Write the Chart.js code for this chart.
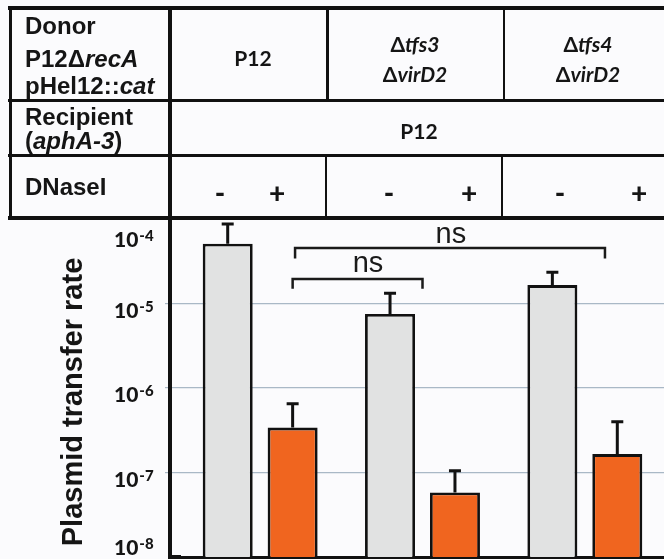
<!DOCTYPE html>
<html>
<head>
<meta charset="utf-8">
<script src="https://cdn.jsdelivr.net/npm/chart.js@4.4.1/dist/chart.umd.min.js"></script>
<style>
  html, body { margin: 0; padding: 0; overflow: hidden; background: #fbfbfd; }
  #wrap { position: relative; width: 664px; height: 559px; overflow: hidden; }
  canvas { position: absolute; left: 0; top: 0; }
  .ln { position: absolute; background: #111; }
  .t { position: absolute; white-space: nowrap; color: #151515; line-height: 1; }
  .a { font: bold 24px "Liberation Sans", Arial, sans-serif; left: 25px; }
  .c { font: bold 21px Lato, sans-serif; width: 200px; text-align: center; }
  .pm { font: 900 28px Lato, sans-serif; width: 40px; text-align: center; }
</style>
</head>
<body>
<div id="wrap">
  <canvas id="chart" width="700" height="559"></canvas>

  <!-- table frame -->
  <div class="ln" style="left:8px; top:6px; width:700px; height:4px"></div>
  <div class="ln" style="left:8.5px; top:6px; width:3px; height:213px"></div>
  <div class="ln" style="left:168px; top:6px; width:4px; height:552px"></div>
  <div class="ln" style="left:168px; top:555px; width:13px; height:3.5px"></div>
  <div class="ln" style="left:8px; top:99px; width:700px; height:3px"></div>
  <div class="ln" style="left:8px; top:153.5px; width:700px; height:3px"></div>
  <div class="ln" style="left:8px; top:215.5px; width:700px; height:4px"></div>
  <div class="ln" style="left:326px; top:6px; width:2.5px; height:95px"></div>
  <div class="ln" style="left:502.5px; top:6px; width:2.5px; height:95px"></div>
  <div class="ln" style="left:324.5px; top:155px; width:2.5px; height:62px"></div>
  <div class="ln" style="left:500.5px; top:155px; width:2.5px; height:62px"></div>

  <!-- row headers -->
  <div class="t a" style="top:11.7px">Donor</div>
  <div class="t a" style="top:45.4px">P12&Delta;<i>recA</i></div>
  <div class="t a" style="top:71.7px">pHel12::<i>cat</i></div>
  <div class="t a" style="top:102.7px">Recipient</div>
  <div class="t a" style="top:126.7px">(<i>aphA-3</i>)</div>
  <div class="t a" style="top:172.7px">DNaseI</div>

  <!-- donor strains -->
  <div class="t c" style="left:153px; top:44.8px">P12</div>
  <div class="t c" style="left:315px; top:31.4px">&Delta;<i>tfs3</i></div>
  <div class="t c" style="left:315px; top:60.9px">&Delta;<i>virD2</i></div>
  <div class="t c" style="left:488px; top:31.4px">&Delta;<i>tfs4</i></div>
  <div class="t c" style="left:488px; top:60.9px">&Delta;<i>virD2</i></div>
  <!-- recipient -->
  <div class="t c" style="left:319px; top:118.4px">P12</div>
  <!-- DNaseI -->
  <div class="t pm" style="left:200px; top:175px">-</div>
  <div class="t pm" style="left:257px; top:175px">+</div>
  <div class="t pm" style="left:369px; top:175px">-</div>
  <div class="t pm" style="left:449px; top:175px">+</div>
  <div class="t pm" style="left:540px; top:175px">-</div>
  <div class="t pm" style="left:619px; top:175px">+</div>
</div>

<script>
// donor strains (groups)
const groups = ['P12', 'Δtfs3 ΔvirD2', 'Δtfs4 ΔvirD2'];

// plasmid transfer rate, without / with DNaseI
const minusDNase = [5.1e-5, 7.5e-6, 1.65e-5];
const minusErr = [8.7e-5, 1.32e-5, 2.35e-5];   // top of error bar
const plusDNase = [3.4e-7, 5.8e-8, 1.65e-7];
const plusErr = [6.5e-7, 1.05e-7, 4.0e-7];

const yTicks = [1e-8, 1e-7, 1e-6, 1e-5, 1e-4];

// significance brackets (x in group units, y in rate units)
const sigFrom = [0.2, 0.215];
const sigTo = [1.0, 2.124];
const sigLevel = [1.95e-5, 4.54e-5];
const sigLegEnd = [1.49e-5, 3.41e-5];
const sigLabel = ['ns', 'ns'];
const sigLabelX = [0.664, 1.175];
const sigLabelY = [2.36e-5, 5.2e-5];

const errTops = [minusErr, plusErr];

const overlay = {
  id: 'overlay',
  afterDatasetsDraw(chart) {
    const { ctx, scales: { x, y } } = chart;
    ctx.save();
    // error bars
    ctx.strokeStyle = '#111';
    ctx.lineWidth = 3;
    chart.data.datasets.forEach((ds, d) => {
      chart.getDatasetMeta(d).data.forEach((bar, i) => {
        const top = y.getPixelForValue(errTops[d][i]);
        ctx.beginPath();
        ctx.moveTo(bar.x, bar.y);
        ctx.lineTo(bar.x, top);
        ctx.moveTo(bar.x - 6, top);
        ctx.lineTo(bar.x + 6, top);
        ctx.stroke();
      });
    });
    // brackets
    ctx.strokeStyle = '#1a1a1a';
    ctx.lineWidth = 2.5;
    ctx.fillStyle = '#1a1a1a';
    ctx.font = '29px "Liberation Sans", Arial, sans-serif';
    ctx.textAlign = 'center';
    ctx.textBaseline = 'alphabetic';
    sigFrom.forEach((f, k) => {
      const x1 = x.getPixelForValue(f);
      const x2 = x.getPixelForValue(sigTo[k]);
      const yl = y.getPixelForValue(sigLevel[k]);
      const ye = y.getPixelForValue(sigLegEnd[k]);
      ctx.beginPath();
      ctx.moveTo(x1, ye);
      ctx.lineTo(x1, yl);
      ctx.lineTo(x2, yl);
      ctx.lineTo(x2, ye);
      ctx.stroke();
      ctx.fillText(sigLabel[k], x.getPixelForValue(sigLabelX[k]), y.getPixelForValue(sigLabelY[k]));
    });
    ctx.restore();
  },
  afterDraw(chart) {
    const { ctx, chartArea, scales: { y } } = chart;
    ctx.save();
    ctx.fillStyle = '#151515';
    // tick labels with superscript exponent
    const lx = chartArea.left - 65;
    yTicks.forEach(v => {
      const p = y.getPixelForValue(v);
      const base = Math.min(Math.max(p + 14, 247), 555);
      ctx.textAlign = 'left';
      ctx.textBaseline = 'alphabetic';
      ctx.font = '900 21px Lato, sans-serif';
      ctx.fillText('10', lx, base);
      const w = ctx.measureText('10').width;
      ctx.font = '900 15px Lato, sans-serif';
      ctx.fillText('-' + Math.abs(Math.round(Math.log10(v))), lx + w + 1, base - 6);
    });
    // axis title
    ctx.translate(82, (chartArea.top + chartArea.bottom) / 2 + 14);
    ctx.rotate(-Math.PI / 2);
    ctx.font = 'bold 29px "Liberation Sans", Arial, sans-serif';
    ctx.textAlign = 'center';
    ctx.fillText('Plasmid transfer rate', 0, 0);
    ctx.restore();
  }
};

const ctx = document.getElementById('chart').getContext('2d');
new Chart(ctx, {
  type: 'bar',
  data: {
    labels: groups,
    datasets: [{
      label: 'DNaseI -',
      data: minusDNase,
      backgroundColor: '#e1e2e2',
      borderColor: '#111',
      borderWidth: 2.8
    }, {
      label: 'DNaseI +',
      data: plusDNase,
      backgroundColor: '#f0651f',
      borderColor: '#111',
      borderWidth: 2.8
    }]
  },
  options: {
    responsive: false,
    animation: false,
    categoryPercentage: 0.8,
    barPercentage: 0.77,
    layout: { padding: { top: 219, right: 34, bottom: 2, left: 0 } },
    plugins: { legend: { display: false }, tooltip: { enabled: false } },
    scales: {
      x: {
        ticks: { display: false },
        grid: { display: false },
        border: { color: '#111', width: 3 },
        afterFit: s => { s.height = 0; }
      },
      y: {
        type: 'logarithmic',
        min: 1e-8,
        max: 1e-4,
        afterBuildTicks: s => { s.ticks = yTicks.map(v => ({ value: v })); },
        ticks: { display: false },
        grid: {
          color: c => (c.tick && (c.tick.value === 1e-8 || c.tick.value === 1e-4)) ? 'rgba(0,0,0,0)' : '#a9b8c6',
          lineWidth: 1.2,
          tickLength: 14
        },
        border: { display: false },
        afterFit: s => { s.width = 179; }
      }
    }
  },
  plugins: [overlay]
});
</script>
</body>
</html>
